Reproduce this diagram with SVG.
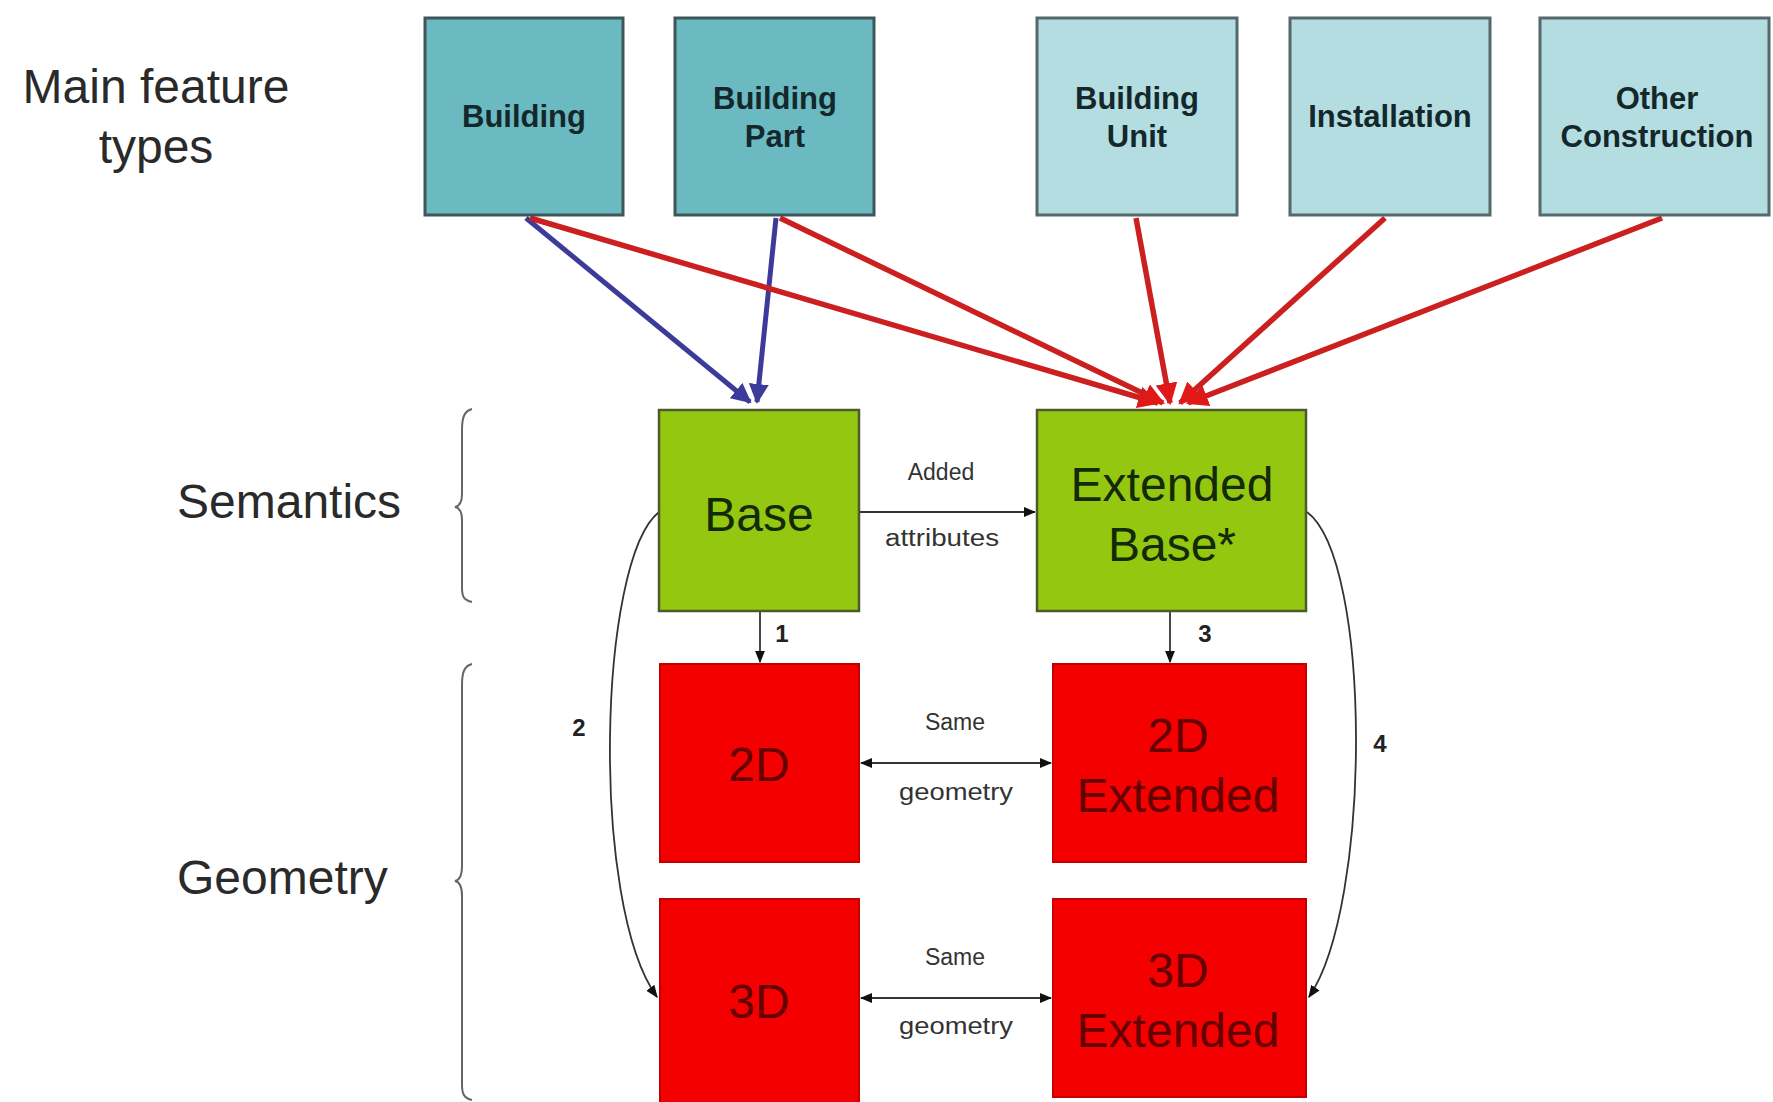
<svg xmlns="http://www.w3.org/2000/svg" width="1773" height="1102" viewBox="0 0 1773 1102">
<defs>
<style>
.lbl{font-family:"Liberation Sans",Arial,sans-serif;fill:#2a2a2a}
.big{font-size:48px}
.top{font-family:"Liberation Sans",Arial,sans-serif;font-weight:bold;font-size:31px;fill:#14282c;text-anchor:middle}
.dark{fill:#6bb9c1;stroke:#3f5659;stroke-width:3}
.light{fill:#b4dde1;stroke:#55696b;stroke-width:3}
.green{fill:#94c810;stroke:#4c5a2c;stroke-width:2.5}
.red{fill:#f40000;stroke:#c40000;stroke-width:2}
.gt{font-family:"Liberation Sans",Arial,sans-serif;font-size:48px;fill:#142a06;text-anchor:middle}
.rt{font-family:"Liberation Sans",Arial,sans-serif;font-size:48px;fill:#640000;text-anchor:middle}
.small{font-family:"Liberation Sans",Arial,sans-serif;font-size:23px;fill:#333;text-anchor:middle}
.num{font-family:"Liberation Sans",Arial,sans-serif;font-size:24px;font-weight:bold;fill:#222;text-anchor:middle}
.blue{stroke:#3d3b9a;stroke-width:5;fill:none}
.rl{stroke:#cc2020;stroke-width:5.5;fill:none}
.thin{stroke:#333;stroke-width:1.8;fill:none}
.brace{stroke:#666;stroke-width:2;fill:none}
</style>
<marker id="ab" viewBox="0 0 10 10" refX="9" refY="5" markerWidth="4" markerHeight="4" orient="auto" markerUnits="strokeWidth"><path d="M0,0 L10,5 L0,10 z" fill="#3d3b9a"/></marker>
<marker id="ar" viewBox="0 0 10 10" refX="9" refY="5" markerWidth="4" markerHeight="4" orient="auto" markerUnits="strokeWidth"><path d="M0,0 L10,5 L0,10 z" fill="#e01818"/></marker>
<marker id="ak" viewBox="0 0 10 10" refX="9" refY="5" markerWidth="7" markerHeight="7" orient="auto" markerUnits="strokeWidth"><path d="M0,1 L10,5 L0,9 z" fill="#111"/></marker>
<marker id="aks" viewBox="0 0 10 10" refX="1" refY="5" markerWidth="7" markerHeight="7" orient="auto" markerUnits="strokeWidth"><path d="M10,1 L0,5 L10,9 z" fill="#111"/></marker>
</defs>
<rect width="1773" height="1102" fill="#fff"/>

<g id="labels">
<text class="lbl big" x="156" y="103" text-anchor="middle">Main feature</text>
<text class="lbl big" x="156" y="163" text-anchor="middle">types</text>
<text class="lbl big" x="177" y="518">Semantics</text>
<text class="lbl big" x="177" y="894">Geometry</text>
<path class="brace" d="M472,409 C464,411 462,418 462,430 L462,494 C462,502 460,506 455,507 C460,508 462,512 462,520 L462,588 C462,597 464,600 472,602"/>
<path class="brace" d="M472,664 C464,666 462,673 462,685 L462,866 C462,875 460,880 455,881 C460,882 462,887 462,896 L462,1085 C462,1094 464,1098 472,1100"/>
</g>

<g id="connectors">
<line class="blue" x1="526" y1="218" x2="750" y2="402" marker-end="url(#ab)"/>
<line class="blue" x1="776" y1="218" x2="757" y2="402" marker-end="url(#ab)"/>
<line class="rl" x1="530" y1="218" x2="1158" y2="403" marker-end="url(#ar)"/>
<line class="rl" x1="780" y1="218" x2="1163" y2="403" marker-end="url(#ar)"/>
<line class="rl" x1="1136" y1="218" x2="1170" y2="403" marker-end="url(#ar)"/>
<line class="rl" x1="1385" y1="218" x2="1180" y2="403" marker-end="url(#ar)"/>
<line class="rl" x1="1662" y1="218" x2="1188" y2="403" marker-end="url(#ar)"/>
<line class="thin" x1="860" y1="512" x2="1035" y2="512" marker-end="url(#ak)"/>
<line class="thin" x1="760" y1="612" x2="760" y2="662" marker-end="url(#ak)"/>
<line class="thin" x1="1170" y1="612" x2="1170" y2="662" marker-end="url(#ak)"/>
<line class="thin" x1="861" y1="763" x2="1051" y2="763" marker-start="url(#aks)" marker-end="url(#ak)"/>
<line class="thin" x1="861" y1="998" x2="1051" y2="998" marker-start="url(#aks)" marker-end="url(#ak)"/>
<path class="thin" d="M659,512 C598,560 590,905 657,997" marker-end="url(#ak)"/>
<path class="thin" d="M1307,512 C1372,560 1372,905 1309,997" marker-end="url(#ak)"/>
<text class="small" x="941" y="480">Added</text>
<text class="small" x="942" y="546" textLength="114" lengthAdjust="spacingAndGlyphs">attributes</text>
<text class="small" x="955" y="730">Same</text>
<text class="small" x="956" y="800" textLength="114" lengthAdjust="spacingAndGlyphs">geometry</text>
<text class="small" x="955" y="965">Same</text>
<text class="small" x="956" y="1034" textLength="114" lengthAdjust="spacingAndGlyphs">geometry</text>
<text class="num" x="782" y="642">1</text>
<text class="num" x="579" y="736">2</text>
<text class="num" x="1205" y="642">3</text>
<text class="num" x="1380" y="752">4</text>
</g>

<g id="building"><rect class="dark" x="425" y="18" width="198" height="197"/><text class="top" x="524" y="127">Building</text></g>
<g id="building-part"><rect class="dark" x="675" y="18" width="199" height="197"/><text class="top" x="775" y="109">Building</text><text class="top" x="775" y="147">Part</text></g>
<g id="building-unit"><rect class="light" x="1037" y="18" width="200" height="197"/><text class="top" x="1137" y="109">Building</text><text class="top" x="1137" y="147">Unit</text></g>
<g id="installation"><rect class="light" x="1290" y="18" width="200" height="197"/><text class="top" x="1390" y="127">Installation</text></g>
<g id="other-construction"><rect class="light" x="1540" y="18" width="229" height="197"/><text class="top" x="1657" y="109">Other</text><text class="top" x="1657" y="147">Construction</text></g>

<g id="base"><rect class="green" x="659" y="410" width="200" height="201"/><text class="gt" x="759" y="531">Base</text></g>
<g id="extended-base"><rect class="green" x="1037" y="410" width="269" height="201"/><text class="gt" x="1172" y="501">Extended</text><text class="gt" x="1172" y="561">Base*</text></g>
<g id="d2"><rect class="red" x="660" y="664" width="199" height="198"/><text class="rt" x="759" y="781">2D</text></g>
<g id="d2-extended"><rect class="red" x="1053" y="664" width="253" height="198"/><text class="rt" x="1178" y="752">2D</text><text class="rt" x="1178" y="812">Extended</text></g>
<g id="d3"><rect class="red" x="660" y="899" width="199" height="210"/><text class="rt" x="759" y="1018">3D</text></g>
<g id="d3-extended"><rect class="red" x="1053" y="899" width="253" height="198"/><text class="rt" x="1178" y="987">3D</text><text class="rt" x="1178" y="1047">Extended</text></g>
</svg>
